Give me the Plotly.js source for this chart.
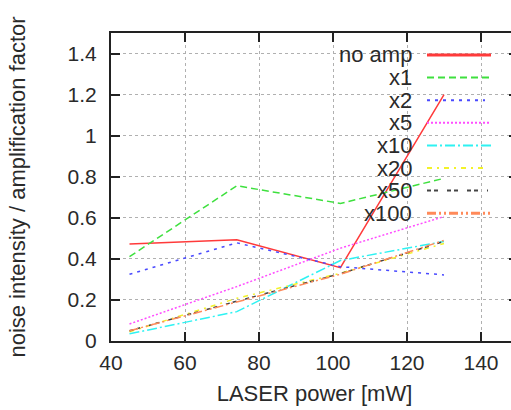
<!DOCTYPE html>
<html>
<head>
<meta charset="utf-8">
<script src="https://cdn.plot.ly/plotly-3.0.1.min.js"></script>
<style>
html,body{margin:0;padding:0;overflow:hidden;background:#fff;}
#chart{width:520px;height:410px;}
</style>
</head>
<body>
<div id="chart"></div>
<script>
// ---- data ----
const laserPower = [45, 74, 102, 130];
const seriesNames = ["no amp", "x1", "x2", "x5", "x10", "x20", "x50", "x100"];
const noAmp = [0.473, 0.493, 0.357, 1.2];
const x1    = [0.411, 0.756, 0.670, 0.792];
const x2    = [0.325, 0.478, 0.362, 0.322];
const x5    = [0.083, 0.265, 0.452, 0.606];
const x10   = [0.035, 0.143, 0.392, 0.485];
const x20   = [0.045, 0.208, 0.330, 0.475];
const x50   = [0.050, 0.194, 0.328, 0.485];
const x100  = [0.050, 0.190, 0.325, 0.490];
const xTicks = [40, 60, 80, 100, 120, 140];
const yTicks = [0, 0.2, 0.4, 0.6, 0.8, 1, 1.2, 1.4];

// ---- styles ----
const seriesValues = [noAmp, x1, x2, x5, x10, x20, x50, x100];
const colors = ["#ff3a3a", "#3ee03e", "#4a4aff", "#ff4dff", "#2ef2f2", "#f2f22a", "#444444", "#ff8a5a"];
const dashes = ["solid", "7px,4px", "3px,5px", "2px,2px", "10px,3px,2px,3px", "5px,5px,2px,5px", "4px,3px,4px,9px", "9px,3px,2px,3px,2px,3px"];
const widths = [1.5, 1.5, 1.5, 1.5, 1.5, 1.5, 1.5, 1.5];
const sampleEnds = [491, 491, 485, 491, 491, 486, 488, 491];

const traces = seriesNames.map((name, i) => ({
  x: laserPower,
  y: seriesValues[i],
  name: name,
  type: "scatter",
  mode: "lines",
  line: {color: colors[i], width: widths[i], dash: dashes[i]},
  showlegend: false,
  hoverinfo: "skip"
}));

// geometry (pixels)
const W = 520, H = 410, L = 111, T = 33, R = 2, B = 69;
const pw = W - L - R, ph = H - T - B;
const px2x = p => (p - L) / pw;
const py2y = p => (H - B - p) / ph;

const FONT = "Liberation Sans, Arial, sans-serif";
const TXT = "#2a2a2a";
const annotations = [];
const shapes = [];
// opaque key box (above grid, below traces)
shapes.push({type: "rect", xref: "paper", yref: "paper", layer: "between",
  x0: px2x(332), x1: 1.0, y0: py2y(225), y1: 1.0,
  fillcolor: "#ffffff", line: {width: 0}});
seriesNames.forEach((name, i) => {
  const yc = 55 + i * 22.6;
  annotations.push({xref: "paper", yref: "paper", x: px2x(414), y: py2y(yc),
    xanchor: "right", yanchor: "middle", text: name, showarrow: false,
    font: {family: FONT, size: 22, color: TXT}});
  shapes.push({type: "line", xref: "paper", yref: "paper", layer: "above",
    x0: px2x(427), x1: px2x(sampleEnds[i]), y0: py2y(yc), y1: py2y(yc),
    line: {color: colors[i], width: i === 0 || i === 7 ? 3 : 2, dash: dashes[i]}});
});

const axisCommon = {
  showline: true, linecolor: "#222", linewidth: 2, mirror: "ticks",
  ticks: "inside", ticklen: 9, tickwidth: 2, tickcolor: "#222",
  showgrid: true, gridcolor: "#b0b0b0", gridwidth: 1, griddash: "dot",
  zeroline: false, tickfont: {family: FONT, size: 21, color: TXT},
  fixedrange: true
};

const layout = {
  width: W, height: H,
  margin: {l: L, r: R, t: T, b: B},
  paper_bgcolor: "#fff", plot_bgcolor: "#fff",
  showlegend: false,
  xaxis: Object.assign({}, axisCommon, {
    range: [40, 150], tickvals: xTicks, ticktext: xTicks.map(String),
    ticklabelstandoff: 2,
    title: {text: "LASER power [mW]", font: {family: FONT, size: 22, color: TXT}, standoff: 12}
  }),
  yaxis: Object.assign({}, axisCommon, {
    range: [0, 1.5], tickvals: yTicks, ticktext: yTicks.map(String),
    ticklabelstandoff: 8,
    title: {text: "noise intensity / amplification factor", font: {family: FONT, size: 22, color: TXT}, standoff: 36}
  }),
  annotations: annotations,
  shapes: shapes
};

Plotly.newPlot("chart", traces, layout, {staticPlot: true, displayModeBar: false});
</script>
</body>
</html>
